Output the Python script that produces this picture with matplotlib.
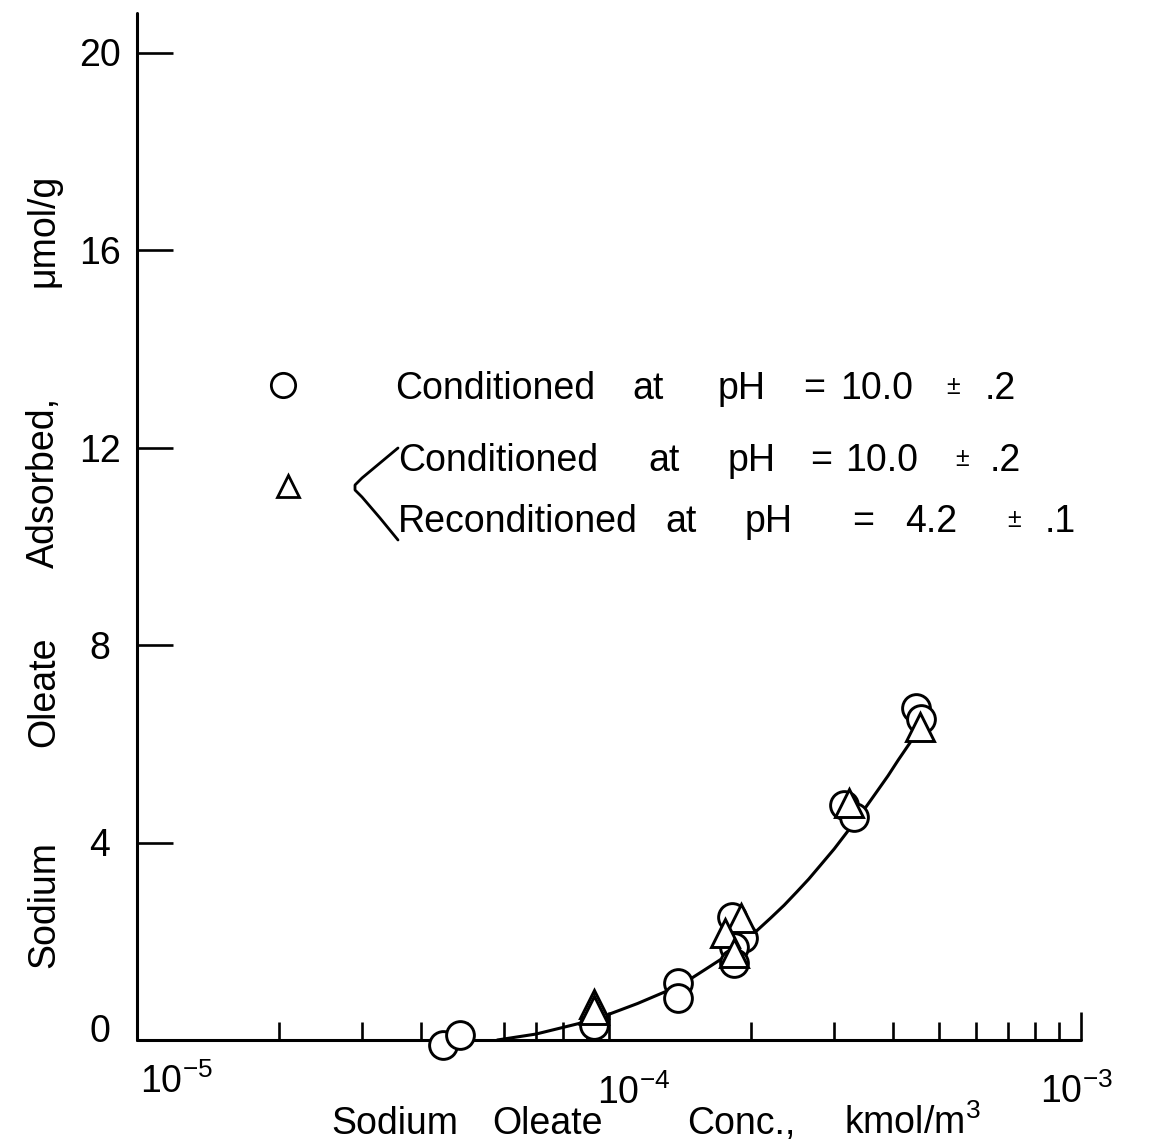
import matplotlib
matplotlib.use("Agg")
import matplotlib.pyplot as plt
from matplotlib import font_manager as fm
from matplotlib.transforms import blended_transform_factory

# ---------------- data ----------------
circle_x = [4.45e-5, 4.83e-5, 9.3e-5, 1.40e-4, 1.40e-4, 1.82e-4, 1.92e-4,
            1.84e-4, 1.84e-4, 3.15e-4, 3.30e-4, 4.47e-4, 4.58e-4]
circle_y = [-0.10, 0.10, 0.30, 1.15, 0.85, 2.50, 2.06,
            1.88, 1.56, 4.76, 4.51, 6.72, 6.50]

tri_x = [9.3e-5, 9.3e-5, 1.90e-4, 1.76e-4, 1.84e-4, 3.22e-4, 4.56e-4]
tri_y = [0.73, 0.61, 2.47, 2.17, 1.76, 4.80, 6.34]

curve_x = [5.8e-5, 7.0e-5, 8.6e-5, 9.8e-5, 1.15e-4, 1.34e-4, 1.49e-4, 1.6e-4,
           1.73e-4, 2.06e-4, 2.2e-4, 2.35e-4, 2.5e-4, 2.65e-4, 2.8e-4, 3.0e-4,
           3.2e-4, 3.45e-4, 3.7e-4, 3.9e-4, 4.1e-4, 4.4e-4, 4.55e-4]
curve_y = [0.0, 0.12, 0.33, 0.49, 0.74, 1.01, 1.24, 1.43,
           1.64, 2.22, 2.47, 2.73, 3.00, 3.26, 3.53, 3.87,
           4.22, 4.63, 5.04, 5.35, 5.67, 6.10, 6.32]

y_ticks = [0, 4, 8, 12, 16, 20]
y_tick_labels = ["0", "4", "8", "12", "16", "20"]
x_major = [1e-5, 1e-4, 1e-3]
x_tick_labels = [r"$\mathregular{10^{-5}}$", r"$\mathregular{10^{-4}}$",
                 r"$\mathregular{10^{-3}}$"]

xlabel_words = ["Sodium", "Oleate", "Conc.,", r"kmol/m$^{3}$"]
ylabel_words = ["Sodium", "Oleate", "Adsorbed,", "\u03bcmol/g"]
legend_line1 = ["Conditioned", "at", "pH", "=", "10.0", "\u00b1", ".2"]
legend_line2 = ["Conditioned", "at", "pH", "=", "10.0", "\u00b1", ".2"]
legend_line3 = ["Reconditioned", "at", "pH", "=", "4.2", "\u00b1", ".1"]

# ---------------- font ----------------
_names = {f.name for f in fm.fontManager.ttflist}
FONT = next((c for c in ["Liberation Sans", "Arimo", "DejaVu Sans"] if c in _names),
            "DejaVu Sans")
plt.rcParams["font.family"] = [FONT, "DejaVu Sans"]
plt.rcParams["mathtext.default"] = "regular"
plt.rcParams["mathtext.fontset"] = "custom"
plt.rcParams["mathtext.rm"] = FONT

W, H = 1151, 1148
fig = plt.figure(figsize=(W / 100, H / 100), dpi=100)
fig.patch.set_facecolor("white")


def P(px, py):
    return px / W, 1 - py / H


LW = 2.2
FS = 27

x0, x1 = 137, 1081
y0, y1 = 1040, 13
ax = fig.add_axes([x0 / W, 1 - y0 / H, (x1 - x0) / W, (y0 - y1) / H])
ax.set_xscale("log")
ax.set_xlim(1e-5, 1e-3)
ax.set_ylim(0, 20.8)
for s in ["top", "right"]:
    ax.spines[s].set_visible(False)
for s in ["left", "bottom"]:
    ax.spines[s].set_linewidth(LW)
    ax.spines[s].set_capstyle("round")

# y ticks (labels drawn as centred text, like the hand lettering)
ax.set_yticks(y_ticks)
ax.set_yticklabels([])
ax.tick_params(axis="y", direction="in", length=26, width=1.9)
ytrans = blended_transform_factory(ax.transAxes, ax.transData)
for v, t in zip(y_ticks, y_tick_labels):
    yy = v + (0.25 if v == 0 else 0.0)
    ax.text((100 - x0) / (x1 - x0), yy, t, transform=ytrans, fontsize=FS,
            ha="center", va="center_baseline")

# x ticks
ax.set_xticks(x_major)
ax.set_xticklabels([])
minor = [m * d for d in (1e-5, 1e-4) for m in range(2, 10)]
ax.set_xticks(minor, minor=True)
ax.xaxis.set_minor_formatter(matplotlib.ticker.NullFormatter())
ax.tick_params(axis="x", which="major", direction="in", length=20, width=1.9)
ax.tick_params(axis="x", which="minor", direction="in", length=13, width=1.9)

# x tick labels (hand-lettered, staggered)
xtl_pos = [(140, 1093), (597, 1104), (1040, 1103)]
for (px, py), t in zip(xtl_pos, x_tick_labels):
    fig.text(*P(px, py), t, fontsize=FS, ha="left", va="baseline")

# curve and markers
ax.plot(curve_x, curve_y, color="black", lw=LW, zorder=2, clip_on=False,
        solid_capstyle="round", solid_joinstyle="round")
ax.plot(circle_x, circle_y, linestyle="none", marker="o", markersize=20,
        markerfacecolor="white", markeredgecolor="black", markeredgewidth=2.1,
        zorder=3, clip_on=False)
ax.plot(tri_x, tri_y, linestyle="none", marker="^", markersize=20.5,
        markerfacecolor="white", markeredgecolor="black", markeredgewidth=2.1,
        zorder=4, clip_on=False)

# axis labels (word by word, wide spacing)
for cx, w in zip([395, 548, 741, 912], xlabel_words):
    fig.text(*P(cx, 1134), w, fontsize=FS, ha="center", va="baseline")
for cy, w in zip([905, 692, 482, 230], ylabel_words):
    fig.text(*P(54, cy), w, fontsize=FS, ha="center", va="baseline",
             rotation=90, rotation_mode="anchor")

# legend
fig.add_artist(plt.Line2D([P(283, 385)[0]], [P(283, 385)[1]], marker="o",
                          markersize=17.5, markerfacecolor="white",
                          markeredgecolor="black", markeredgewidth=2.0,
                          linestyle="none"))
fig.add_artist(plt.Line2D([P(288, 486)[0]], [P(288, 486)[1]], marker="^",
                          markersize=15.5, markerfacecolor="white",
                          markeredgecolor="black", markeredgewidth=2.0,
                          linestyle="none"))
bx = [398, 380, 362, 355, 355, 362, 380, 398]
by = [448, 463, 478, 485, 490, 497, 518, 540]
fig.add_artist(plt.Line2D([P(a, b)[0] for a, b in zip(bx, by)],
                          [P(a, b)[1] for a, b in zip(bx, by)],
                          color="black", lw=2.0, solid_capstyle="round",
                          solid_joinstyle="round"))

lines = [
    (legend_line1, [395, 632, 718, 803, 840, 946, 985], 399),
    (legend_line2, [398, 648, 728, 810, 845, 955, 990], 471),
    (legend_line3, [398, 665, 745, 852, 905, 1007, 1045], 532),
]
for words, xs, base in lines:
    for w, px in zip(words, xs):
        fs = 18 if w == "\u00b1" else FS
        dy = -5 if w == "\u00b1" else 0
        fig.text(*P(px, base + dy), w, fontsize=fs, ha="left", va="baseline")

fig.savefig("out.png", dpi=100, facecolor="white")
